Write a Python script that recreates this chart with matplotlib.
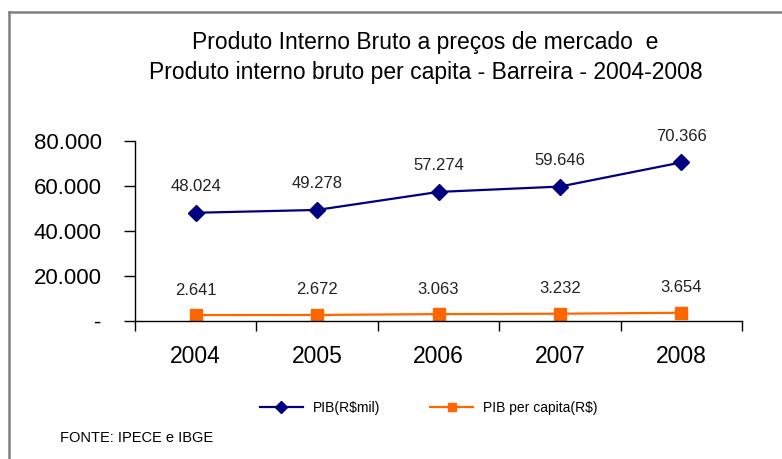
import matplotlib
matplotlib.use("Agg")
import matplotlib.pyplot as plt
from matplotlib.lines import Line2D
from matplotlib.ticker import FuncFormatter

anos = ["2004", "2005", "2006", "2007", "2008"]
pib = [48024, 49278, 57274, 59646, 70366]
pib_per_capita = [2641, 2672, 3063, 3232, 3654]

plt.rcParams["font.family"] = ["Liberation Sans", "DejaVu Sans"]

fig = plt.figure(figsize=(7.82, 4.59), dpi=100)
ax = fig.add_axes([135 / 782, 1 - 321 / 459, (742 - 135) / 782, (321 - 140.7) / 459])

x = list(range(len(anos)))
ax.plot(x, pib, color="#000080", lw=1.6, marker="D", ms=8)
ax.plot(x, pib_per_capita, color="#FF6600", lw=1.6, marker="s", ms=8)

for xi, v in zip(x, pib):
    ax.annotate(f"{v:,}".replace(",", "."), (xi, v), xytext=(0, 19),
                textcoords="offset points", ha="center", va="center",
                fontsize=12, color="#222222")
for xi, v in zip(x, pib_per_capita):
    ax.annotate(f"{v:,}".replace(",", "."), (xi, v), xytext=(0, 18),
                textcoords="offset points", ha="center", va="center",
                fontsize=12, color="#222222")

ax.set_xlim(-0.5, len(anos) - 0.5)
ax.set_ylim(0, 80000)
ax.set_yticks([0, 20000, 40000, 60000, 80000])
ax.yaxis.set_major_formatter(FuncFormatter(
    lambda v, p: "-" if v == 0 else f"{int(v):,}".replace(",", ".")))
ax.set_xticks(x)
ax.set_xticklabels(anos)
ax.set_xticks([i - 0.5 for i in range(len(anos) + 1)], minor=True)
ax.tick_params(axis="x", which="major", length=0, pad=17, labelsize=16.5)
ax.tick_params(axis="x", which="minor", length=7, width=1, direction="out")
ax.tick_params(axis="y", length=8, width=1, direction="out", pad=16, labelsize=16)

for s in ["top", "right"]:
    ax.spines[s].set_visible(False)
for s in ["left", "bottom"]:
    ax.spines[s].set_linewidth(1)

fig.text(425 / 782, 1 - 43 / 459, "Produto Interno Bruto a preços de mercado  e",
         ha="center", va="center", fontsize=16.5)
fig.text(426 / 782, 1 - 72 / 459, "Produto interno bruto per capita - Barreira - 2004-2008",
         ha="center", va="center", fontsize=16.5)

handles = [
    Line2D([], [], color="#000080", lw=1.6, marker="D", ms=6),
    Line2D([], [], color="#FF6600", lw=1.6, marker="s", ms=6),
]
fig.legend(handles, ["PIB(R$mil)", "PIB per capita(R$)"], loc="center",
           bbox_to_anchor=(0.548, 1 - 408 / 459), ncol=2, frameon=False,
           fontsize=10, handlelength=3.1, handletextpad=0.7, columnspacing=3.6)

fig.text(60 / 782, 1 - 438 / 459, "FONTE: IPECE e IBGE", ha="left", va="center",
         fontsize=10.5)

# moldura parcial (topo e esquerda)
fig.add_artist(Line2D([9 / 782, 1], [1 - 11.5 / 459, 1 - 11.5 / 459],
                      color="#808080", lw=1.8, transform=fig.transFigure))
fig.add_artist(Line2D([9 / 782, 9 / 782], [0, 1 - 11.5 / 459],
                      color="#808080", lw=1.8, transform=fig.transFigure))

fig.savefig("out.png", dpi=100)
